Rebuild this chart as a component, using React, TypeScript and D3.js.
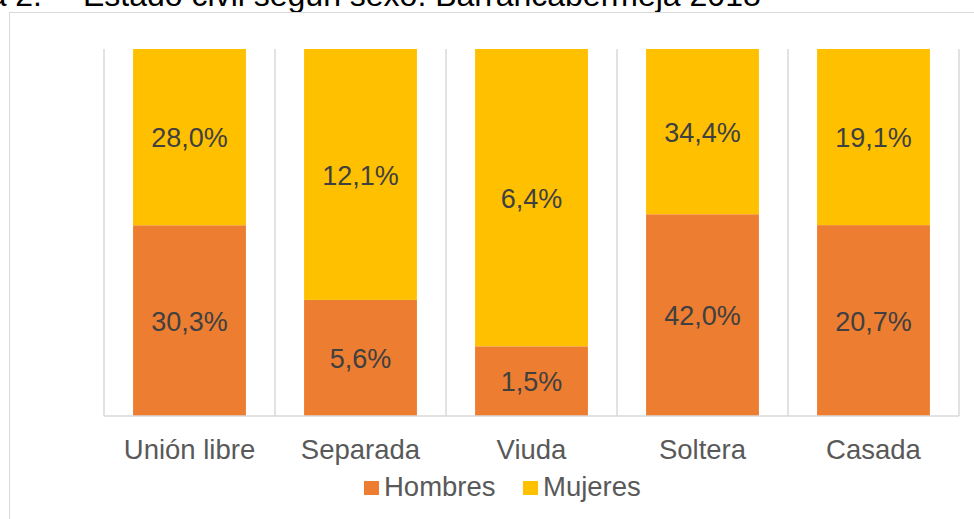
import React from 'react';
import * as d3 from 'd3';

// Estado civil según sexo (porcentajes)
const categories = ['Unión libre', 'Separada', 'Viuda', 'Soltera', 'Casada'];
const hombres = [30.3, 5.6, 1.5, 42.0, 20.7];
const mujeres = [28.0, 12.1, 6.4, 34.4, 19.1];
const seriesNames = ['Hombres', 'Mujeres'];
const seriesColors = ['#ED7D31', '#FFC000'];

const W = 974;
const H = 519;
const font = '"Liberation Sans", Arial, sans-serif';

const App = () => {
  const margin = { left: 104, right: 15, top: 49, bottom: 416 };

  const x = d3.scaleBand<string>()
    .domain(categories)
    .range([margin.left, W - margin.right])
    .paddingInner(0.34)
    .paddingOuter(0.17);

  const y = d3.scaleLinear().domain([0, 1]).range([margin.bottom, margin.top]);

  // 100% stacked: each column normalised
  const rows = categories.map((c, i) => ({ cat: c, Hombres: hombres[i], Mujeres: mujeres[i] }));
  const stack = d3.stack<any>().keys(seriesNames).offset(d3.stackOffsetExpand);
  const layers = stack(rows);

  const step = x.step();
  const bounds = categories.map((c) => (x(c) as number) + x.bandwidth() / 2 - step / 2);
  bounds.push(bounds[bounds.length - 1] + step);

  const fmt = (v: number) => v.toFixed(1).replace('.', ',') + '%';

  return (
    <svg width={W} height={H} style={{ position: 'absolute', left: 0, top: 0, background: '#fff' }}>
      {/* title, cut off by the page top */}
      <text x={42} y={6} fontFamily={font} fontSize={32} textAnchor="end" fill="#000">Figura 2.</text>
      <text x={83} y={6} fontFamily={font} fontSize={32} fill="#000">Estado civil según sexo. Barrancabermeja 2018</text>

      {/* chart frame */}
      <rect x={9.5} y={12.5} width={W + 20} height={H + 20} fill="none" stroke="#d9d9d9" strokeWidth={1} />

      {/* vertical gridlines between categories */}
      {bounds.map((b, i) => (
        <line key={i} x1={b} x2={b} y1={margin.top} y2={margin.bottom} stroke="#d9d9d9" strokeWidth={1.5} />
      ))}

      {layers.map((layer, li) => (
        <g key={layer.key} fill={seriesColors[li]}>
          {layer.map((d, i) => (
            <rect key={i} x={x(categories[i])} width={x.bandwidth()}
              y={y(d[1])} height={y(d[0]) - y(d[1])} />
          ))}
        </g>
      ))}

      {layers.map((layer, li) => (
        <g key={'l' + layer.key}>
          {layer.map((d, i) => (
            <text key={i} x={(x(categories[i]) as number) + x.bandwidth() / 2}
              y={(y(d[0]) + y(d[1])) / 2} dy="0.38em" textAnchor="middle"
              fontFamily={font} fontSize={27} fill="#404040">
              {fmt(li === 0 ? hombres[i] : mujeres[i])}
            </text>
          ))}
        </g>
      ))}

      {/* category axis */}
      <line x1={bounds[0]} x2={bounds[bounds.length - 1]} y1={margin.bottom} y2={margin.bottom} stroke="#d9d9d9" strokeWidth={1.5} />
      {categories.map((c) => (
        <text key={c} x={(x(c) as number) + x.bandwidth() / 2} y={459} textAnchor="middle"
          fontFamily={font} fontSize={27.5} fill="#595959">{c}</text>
      ))}

      {/* legend */}
      <g fontFamily={font} fontSize={27.5} fill="#595959">
        <rect x={364} y={481} width={15} height={14} fill={seriesColors[0]} />
        <text x={384} y={496}>{seriesNames[0]}</text>
        <rect x={523} y={481} width={15} height={14} fill={seriesColors[1]} />
        <text x={543} y={496}>{seriesNames[1]}</text>
      </g>
    </svg>
  );
};

export default App;
